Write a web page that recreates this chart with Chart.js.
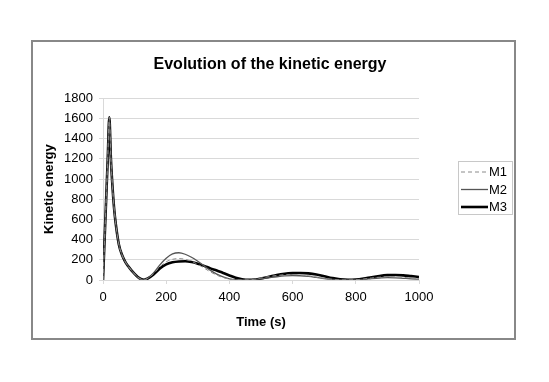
<!DOCTYPE html>
<html>
<head>
<meta charset="utf-8">
<script src="https://cdn.jsdelivr.net/npm/chart.js@4.4.1/dist/chart.umd.min.js"></script>
<style>
  html, body { margin: 0; padding: 0; background: #fff; }
  #wrap { width: 549px; height: 382px; }
</style>
</head>
<body>
<div id="wrap"><canvas id="energyChart" width="549" height="382"></canvas></div>
<script>
// time samples (s)
const times = [0, 5, 10, 15, 20, 25, 30, 35, 40, 50, 60, 70, 80, 90, 100, 110, 120, 130, 140, 160, 180, 200, 220, 240, 260, 280, 300, 320, 340, 360, 380, 400, 420, 440, 460, 480, 500, 525, 550, 575, 600, 625, 650, 675, 700, 725, 750, 775, 800, 825, 850, 875, 900, 925, 950, 975, 1000];

// kinetic energy for each model
const m1 = [0, 400, 800, 1200, 1610, 1200, 925, 715, 565, 355, 250, 183, 135, 95, 60, 30, 9, 3, 13, 62, 130, 180, 205, 212, 205, 185, 155, 118, 80, 48, 24, 9, 2, 0, 2, 8, 20, 34, 45, 52, 54, 50, 42, 30, 17, 7, 1, 0, 3, 10, 20, 28, 33, 32, 26, 19, 14];
const m2 = [0, 400, 800, 1200, 1610, 1200, 925, 715, 565, 355, 250, 183, 135, 95, 60, 28, 7, 2, 14, 70, 150, 215, 258, 270, 255, 225, 185, 140, 95, 58, 30, 12, 3, 0, 1, 5, 12, 22, 32, 40, 44, 42, 35, 25, 14, 6, 1, 0, 2, 7, 14, 20, 24, 22, 17, 12, 8];
const m3 = [0, 400, 800, 1200, 1610, 1200, 925, 715, 565, 355, 250, 183, 135, 95, 60, 30, 10, 3, 12, 55, 115, 155, 175, 183, 185, 178, 162, 140, 115, 95, 70, 45, 22, 8, 2, 5, 15, 32, 50, 62, 68, 70, 66, 55, 38, 20, 6, 1, 4, 14, 28, 40, 48, 50, 46, 38, 30];

const seriesNames = ['M1', 'M2', 'M3'];
const yMin = 0, yMax = 1800, yStep = 200;
const xMin = 0, xMax = 1000, xStep = 200;

const FONT = '"Liberation Sans", Arial, sans-serif';
const gridColor = '#d9d9d9';

const toPoints = vals => vals.map((v, i) => ({ x: times[i], y: v }));
const plainNumber = v => String(v);

// white background + grey frame round the whole chart
const framePlugin = {
  id: 'frame',
  beforeDraw(chart) {
    const ctx = chart.ctx;
    ctx.save();
    ctx.fillStyle = '#fff';
    ctx.fillRect(0, 0, chart.width, chart.height);
    ctx.strokeStyle = '#888';
    ctx.lineWidth = 2;
    ctx.strokeRect(32, 41, 483, 298);
    ctx.restore();
  }
};

// boxed legend on the right with line samples
const legendBoxPlugin = {
  id: 'legendBox',
  afterDraw(chart) {
    const ctx = chart.ctx;
    const x = 458, y = 161, w = 54, h = 53;
    ctx.save();
    ctx.fillStyle = '#fff';
    ctx.fillRect(x, y, w, h);
    ctx.strokeStyle = '#c8c8c8';
    ctx.lineWidth = 1;
    ctx.strokeRect(x + 0.5, y + 0.5, w, h);
    ctx.font = '13px ' + FONT;
    ctx.textBaseline = 'middle';
    ctx.fillStyle = '#000';
    chart.data.datasets.forEach((ds, i) => {
      const cy = y + 11 + i * 17.5;
      ctx.beginPath();
      ctx.setLineDash(ds.borderDash || []);
      ctx.strokeStyle = ds.borderColor;
      ctx.lineWidth = ds.borderWidth;
      ctx.moveTo(x + 3, cy);
      ctx.lineTo(x + 30, cy);
      ctx.stroke();
      ctx.setLineDash([]);
      ctx.fillText(ds.label, x + 31, cy + 0.5);
    });
    ctx.restore();
  }
};

new Chart(document.getElementById('energyChart'), {
  type: 'line',
  data: {
    datasets: [
      { label: seriesNames[0], data: toPoints(m1), borderColor: '#8a8a8a', borderWidth: 1, borderDash: [4, 3] },
      { label: seriesNames[1], data: toPoints(m2), borderColor: '#555', borderWidth: 1.3 },
      { label: seriesNames[2], data: toPoints(m3), borderColor: '#000', borderWidth: 2.6 }
    ]
  },
  options: {
    responsive: false,
    animation: false,
    elements: {
      point: { radius: 0 },
      line: { cubicInterpolationMode: 'monotone', fill: false }
    },
    layout: { padding: { left: 40, right: 49, top: 41, bottom: 44 } },
    plugins: {
      legend: { display: false },
      tooltip: { enabled: false },
      title: {
        display: true,
        text: 'Evolution of the kinetic energy',
        color: '#000',
        font: { family: FONT, size: 16, weight: 'bold' },
        padding: { top: 14, bottom: 24 }
      }
    },
    scales: {
      x: {
        type: 'linear',
        min: xMin,
        max: xMax,
        afterFit: s => { s.height = 58; },
        ticks: { stepSize: xStep, color: '#000', font: { family: FONT, size: 13 }, padding: 6, maxRotation: 0, callback: plainNumber },
        grid: { drawOnChartArea: false, drawTicks: true, tickLength: 4, color: gridColor },
        border: { color: gridColor },
        title: {
          display: true,
          text: 'Time (s)',
          color: '#000',
          font: { family: FONT, size: 13, weight: 'bold' },
          padding: { top: 0, bottom: 8 }
        }
      },
      y: {
        min: yMin,
        max: yMax,
        afterFit: s => { s.width = 63; },
        ticks: { stepSize: yStep, color: '#000', font: { family: FONT, size: 13 }, padding: 6, callback: plainNumber },
        grid: { color: gridColor, tickLength: 4 },
        border: { color: gridColor },
        title: {
          display: true,
          text: 'Kinetic energy',
          color: '#000',
          font: { family: FONT, size: 13, weight: 'bold' },
          padding: { top: 2, bottom: 2 }
        }
      },
      // empty right-hand axis that only reserves room for the legend
      spacer: {
        position: 'right',
        min: yMin,
        max: yMax,
        afterFit: s => { s.width = 81; },
        ticks: { display: false },
        grid: { display: false },
        border: { display: false }
      }
    }
  },
  plugins: [framePlugin, legendBoxPlugin]
});
</script>
</body>
</html>
